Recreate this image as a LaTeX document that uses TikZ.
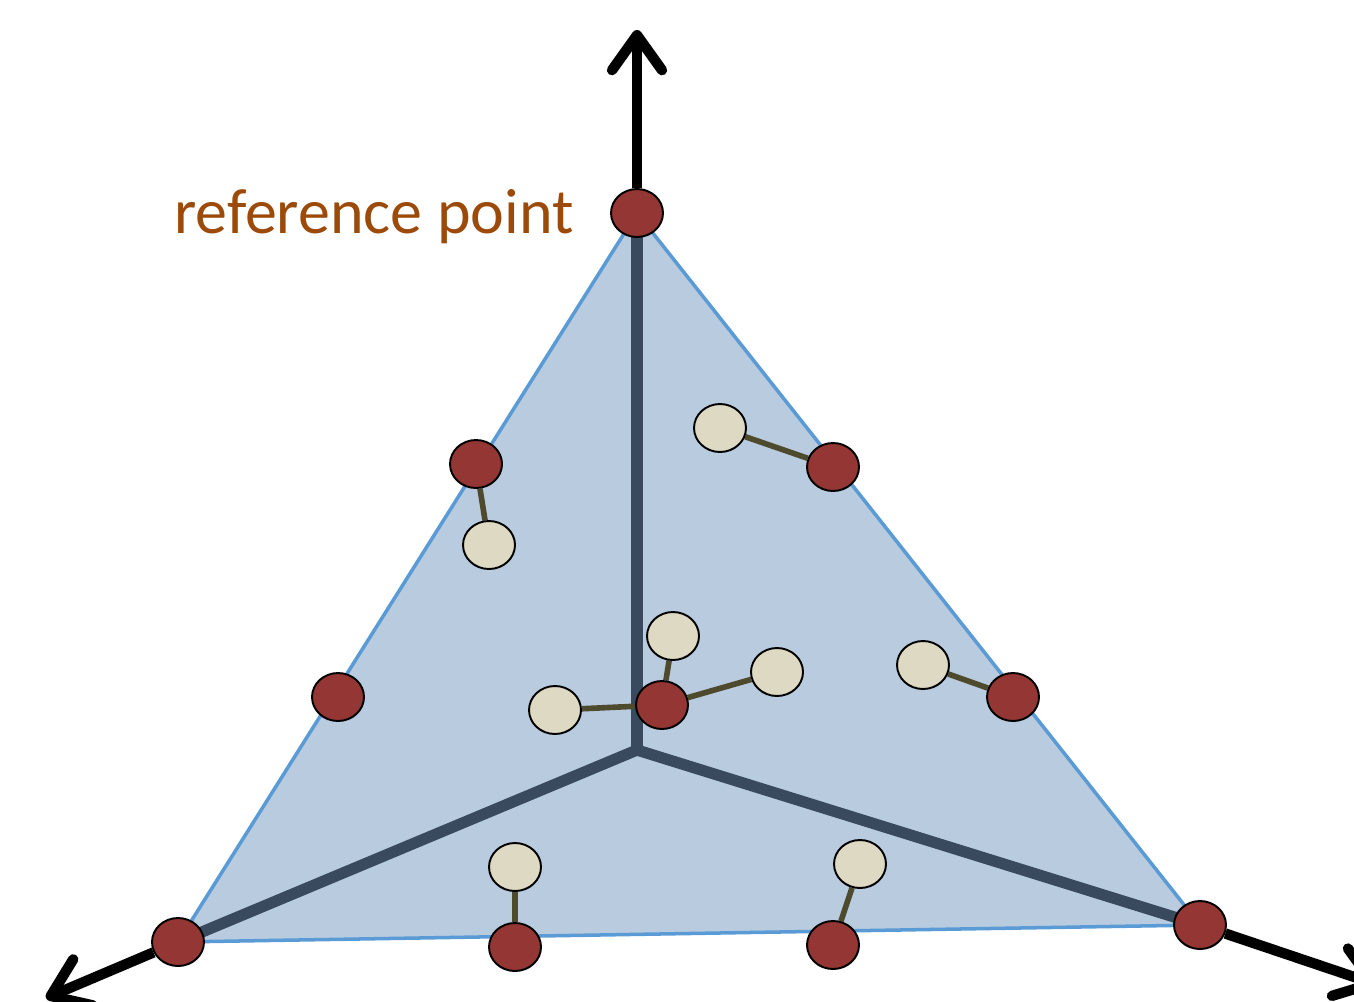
\documentclass[tikz,border=0pt]{standalone}
\usepackage{fontspec}
\setmainfont{Carlito}
\usetikzlibrary{arrows.meta,shapes.geometric,backgrounds}
\definecolor{facefill}{HTML}{B9CBDF}
\definecolor{faceedge}{HTML}{5B9BD5}
\definecolor{spokecol}{HTML}{394A5E}
\definecolor{dotred}{HTML}{943634}
\definecolor{dotbeige}{HTML}{DDD9C3}
\definecolor{linkcol}{HTML}{4E4A2E}
\definecolor{labelcol}{HTML}{9C4A0A}
\tikzset{
  refdot/.style={ellipse, draw=black, line width=1.1pt, fill=dotred,
    minimum width=1.04cm, minimum height=0.96cm, inner sep=0pt},
  nbdot/.style={refdot, fill=dotbeige},
  link/.style={linkcol, line width=3.2pt},
  spoke/.style={spokecol, line width=6.4pt},
  axis/.style={black, line width=5.9pt, -{Straight Barb[length=7mm,width=10mm,round]}}
}
\begin{document}
\begin{tikzpicture}[x=0.02cm, y=-0.02cm, every node/.style={font=\small}]
    \useasboundingbox (0,0) rectangle (1354,1001);
    \coordinate (origin) at (637,750);
% Draw reference points
    \foreach \name/\x/\y in {top/637/213, lu/476/464, ru/833/467, lm/338/697,
        rm/1013/697, mid/662/705, lft/178/942, bl/515/947, br/833/945, rgt/1200/925} {
        \node[refdot] (\name) at (\x,\y) {};
    }
% Draw neighbours
    \foreach \name/\x/\y in {nru/720/428, nlu/489/545, nmt/673/636, nml/555/710,
        nmr/777/672, nrm/923/665, nbl/515/867, nbr/860/864} {
        \node[nbdot] (\name) at (\x,\y) {};
    }
    \node[font=\fontsize{36.4}{41}\selectfont, text=labelcol, anchor=base west,
        inner sep=0pt] (lbl) at (174,233) {reference point};
    \coordinate (topend) at (637,30);
    \coordinate (lftend) at (46,998);
    \coordinate (rgtend) at (1378,985);
    \begin{pgfonlayer}{background}
    % Draw face and spokes
        \fill[facefill] (top.center) -- (rgt.center) -- (lft.center) -- cycle;
        \draw[faceedge, line width=2pt, line join=round]
            (top.center) -- (rgt.center) -- (lft.center) -- cycle;
        \foreach \v in {top, lft, rgt} {
            \draw[spoke] (origin) -- (\v.center);
        }
    % Draw links
        \foreach \a/\b in {ru/nru, lu/nlu, mid/nmt, mid/nml, mid/nmr,
            rm/nrm, bl/nbl, br/nbr} {
            \draw[link] (\a) -- (\b);
        }
    \end{pgfonlayer}
% Draw axes
    \draw[axis] (top) -- (topend);
    \draw[axis] (lft) -- (lftend);
    \draw[axis] (rgt) -- (rgtend);
\end{tikzpicture}
\end{document}
